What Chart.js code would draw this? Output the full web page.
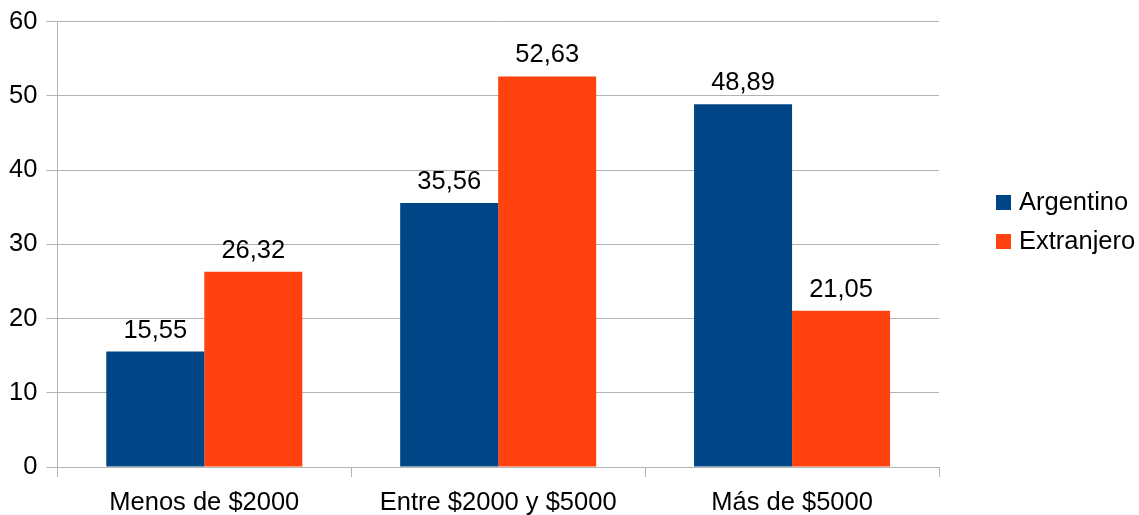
<!DOCTYPE html>
<html><head><meta charset="utf-8">
<script src="https://cdn.jsdelivr.net/npm/chart.js@4"></script>
<style>html,body{margin:0;padding:0;background:#fff}#wrap{width:1139px;height:515px}</style>
</head><body><div id="wrap"><canvas id="c" width="1139" height="515"></canvas></div>
<script>
const categories = ["Menos de $2000", "Entre $2000 y $5000", "Más de $5000"];
const argentino = [15.55, 35.56, 48.89];
const extranjero = [26.32, 52.63, 21.05];
const seriesNames = ["Argentino", "Extranjero"];
const seriesColors = ["#004586", "#ff420e"];
const yTicks = [0, 10, 20, 30, 40, 50, 60];

const FONT = "'Liberation Sans', Arial, sans-serif";
const FS = 25.5;
const GRID = '#b3b3b3';

const labelPlugin = {
  id: 'valueLabels',
  afterDatasetsDraw(chart) {
    const ctx = chart.ctx;
    ctx.save();
    ctx.font = FS + 'px ' + FONT;
    ctx.fillStyle = '#000';
    ctx.textAlign = 'center';
    ctx.textBaseline = 'alphabetic';
    chart.data.datasets.forEach((ds, di) => {
      chart.getDatasetMeta(di).data.forEach((bar, i) => {
        const txt = ds.data[i].toFixed(2).replace('.', ',');
        ctx.fillText(txt, bar.x, bar.y - 14);
      });
    });
    ctx.restore();
  }
};

const legendPlugin = {
  id: 'sideLegend',
  afterDraw(chart) {
    const ctx = chart.ctx;
    ctx.save();
    ctx.font = FS + 'px ' + FONT;
    ctx.textAlign = 'left';
    ctx.textBaseline = 'middle';
    const x0 = chart.chartArea.right + 57;
    const y0 = 195;
    chart.data.datasets.forEach((ds, i) => {
      const y = y0 + i * 39;
      ctx.fillStyle = ds.backgroundColor;
      ctx.fillRect(x0, y, 15, 15);
      ctx.fillStyle = '#000';
      ctx.fillText(ds.label, x0 + 23, y + 8);
    });
    ctx.restore();
  }
};

new Chart(document.getElementById('c'), {
  type: 'bar',
  data: {
    labels: categories,
    datasets: [
      { label: seriesNames[0], data: argentino, backgroundColor: seriesColors[0] },
      { label: seriesNames[1], data: extranjero, backgroundColor: seriesColors[1] }
    ]
  },
  options: {
    responsive: false,
    animation: false,
    devicePixelRatio: 1,
    layout: { padding: { left: 0, top: 2, right: 200, bottom: 0 } },
    datasets: { bar: { categoryPercentage: 0.667, barPercentage: 1.0 } },
    plugins: {
      legend: { display: false },
      tooltip: { enabled: false }
    },
    scales: {
      x: {
        offset: true,
        afterFit: (axis) => { axis.height = 48; },
        grid: {
          offset: true,
          color: (c) => (c.index === 0 || c.index === categories.length) ? GRID : 'rgba(0,0,0,0)',
          tickColor: GRID,
          tickLength: 10,
          lineWidth: 1
        },
        border: { display: false },
        ticks: { font: { family: FONT, size: FS }, color: '#000', padding: 11, maxRotation: 0 }
      },
      y: {
        min: 0, max: 60,
        afterBuildTicks: (axis) => { axis.ticks = yTicks.map(v => ({ value: v })); },
        grid: { color: GRID, tickColor: GRID, tickLength: 11 },
        border: { color: GRID },
        ticks: { font: { family: FONT, size: FS, lineHeight: 1 }, color: '#000', padding: 9 }
      }
    }
  },
  plugins: [labelPlugin, legendPlugin]
});
</script>
</body></html>
